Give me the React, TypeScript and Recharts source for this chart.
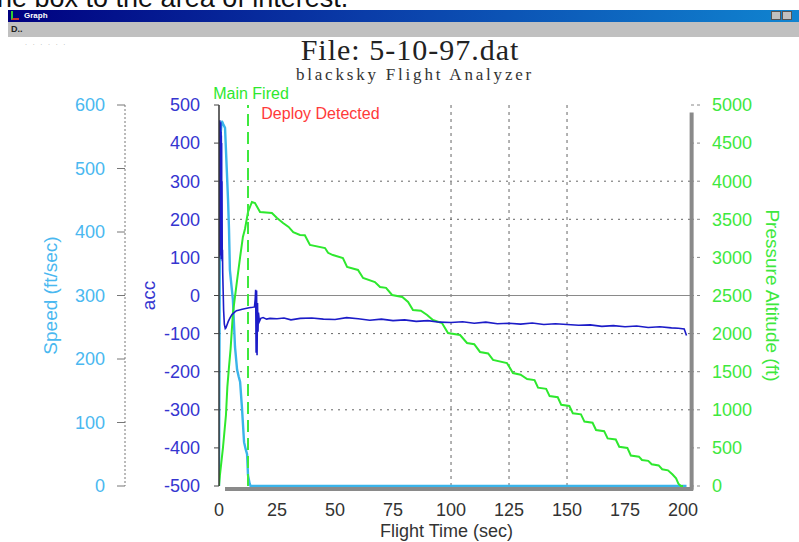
import React from 'react';
import { ComposedChart, Line, XAxis, YAxis, ReferenceLine, Label } from 'recharts';

const timeTicks = [0, 25, 50, 75, 100, 125, 150, 175, 200];
const speedTicks = [0, 100, 200, 300, 400, 500, 600];
const accTicks = [-500, -400, -300, -200, -100, 0, 100, 200, 300, 400, 500];
const altTicks = [0, 500, 1000, 1500, 2000, 2500, 3000, 3500, 4000, 4500, 5000];
const accGridValues = [300, 200, -100, -200, -300];
const timeGridValues = [100, 125, 150];
const mainFiredTime = 12.5;
const deployDetectedTime = 16.5;

const speedSamples: [number, number][] = [
  [0, 0], [0.3, 320], [0.7, 555], [1.2, 575], [1.8, 570], [2.6, 564], [3.4, 494], [3.9, 450],
  [4.3, 406], [4.7, 340], [5.3, 318], [6.0, 293], [6.9, 219], [7.8, 183], [8.5, 172], [9.1, 164],
  [9.9, 123], [10.8, 69], [11.5, 58], [12.1, 50], [12.5, 17], [13.2, 4], [13.6, 0], [40, 0],
  [80, 0], [120, 0], [160, 0], [201.5, 0],
];

const accSamples: [number, number][] = [
  [0, 100], [0.1, 450], [0.15, 120], [0.2, 455], [0.3, 130], [0.35, 460], [0.4, 160], [0.5, 440],
  [0.55, 105], [0.6, 450], [0.7, 110], [0.75, 455], [0.8, 200], [0.9, 430], [0.95, 95], [1.0, 420],
  [1.1, 100], [1.15, 400], [1.2, 95], [1.3, 300], [1.4, 90], [1.5, 120],
  [1.6, 60], [1.8, 10], [2.0, -40], [2.3, -75], [2.7, -87], [3.0, -85], [3.4, -78], [4.0, -68],
  [4.8, -58], [5.6, -50], [6.5, -45], [7.5, -40], [8.8, -38], [10, -36], [11.5, -34], [13, -32],
  [14.5, -31], [15.3, -30], [15.6, -10], [15.8, 15], [16.0, -150], [16.2, 13], [16.4, -157],
  [16.6, -20], [16.8, -95], [17.0, -45], [17.4, -68], [18, -60], [19, -58], [20.5, -62], [22, -60],
  [25, -61], [28, -59], [31, -64], [35, -60], [40, -59], [45, -62], [50, -63], [55, -58], [60, -61],
  [65, -65], [70, -62], [75, -66], [80, -64], [85, -68], [90, -66], [95, -70], [100, -71], [105, -69],
  [110, -73], [115, -70], [120, -74], [125, -73], [130, -75], [135, -72], [140, -76], [145, -74],
  [150, -76], [155, -78], [160, -77], [165, -81], [170, -79], [175, -82], [180, -80], [185, -84],
  [190, -82], [195, -85], [198, -86], [200.5, -88], [201.5, -105],
];

const altSamples: [number, number][] = [
  [0, 0], [0.4, 144], [1.7, 499], [3.0, 932], [3.6, 1300], [4.3, 1560], [5.0, 1800], [6.0, 2270],
  [7.8, 2703], [9.1, 3005], [10.3, 3268], [11.2, 3373], [12.5, 3596], [14.2, 3727], [15.5, 3714],
  [17.7, 3596], [22.8, 3583], [25.0, 3517], [27.6, 3451], [30, 3400], [32, 3330], [34.9, 3294],
  [37, 3290], [39.2, 3163], [45.7, 3123], [47, 3060], [49.1, 3031], [53.4, 2992], [55.2, 2874],
  [59.9, 2835], [62.1, 2730], [67.2, 2677], [69.4, 2612], [72, 2600], [74.6, 2507], [79, 2480],
  [81.5, 2415], [83.6, 2310], [87, 2300], [89.7, 2244], [92.2, 2178], [96.1, 2139], [98.7, 2008],
  [103.9, 1982], [106.9, 1877], [110, 1860], [112.5, 1759], [116, 1740], [118.1, 1654], [124.1, 1614],
  [126.7, 1483], [130, 1460], [132.8, 1404], [136.0, 1390], [137.5, 1290], [141.0, 1275], [142.5, 1180],
  [146.0, 1165], [147.5, 1065], [151.0, 1050], [152.5, 955], [156.0, 940], [157.5, 845], [161.0, 830],
  [162.5, 735], [166.0, 720], [167.5, 625], [171.0, 610], [172.5, 515], [176.0, 500], [177.5, 400],
  [181.0, 385], [182.3, 341], [185.0, 330], [186.5, 285], [189.5, 270], [191.0, 220], [193.5, 205],
  [195.5, 150], [197.0, 100], [198.0, 30], [199.0, 0], [200.0, 0],
];

const speedData = speedSamples.map(([t, v]) => ({ t, speed: v }));
const accData = accSamples.map(([t, v]) => ({ t, acc: v }));
const altData = altSamples.map(([t, v]) => ({ t, alt: v }));

const SANS = '"Liberation Sans", Arial, sans-serif';
const SERIF = '"Liberation Serif", "Times New Roman", serif';

const rotatedTitle = (text: string, color: string, dx: number, angle: number) => (props: any) => {
  const vb = props.viewBox || {};
  const cx = vb.x + dx;
  const cy = vb.y + vb.height / 2;
  return (
    <text x={cx} y={cy} transform={`rotate(${angle} ${cx} ${cy})`} textAnchor="middle"
      dominantBaseline="central" fill={color} fontSize={19} fontFamily={SANS}>
      {text}
    </text>
  );
};

export default function App() {
  return (
    <div style={{ position: 'absolute', left: 0, top: 0, width: 799, height: 542, background: '#fff', overflow: 'hidden', fontFamily: SANS }}>
      <ComposedChart width={799} height={542} margin={{ top: 105, right: 0, bottom: 0, left: 0 }}
        style={{ position: 'absolute', left: 0, top: 0 }}>
        <XAxis dataKey="t" type="number" domain={[0, 203]} ticks={timeTicks} allowDataOverflow height={56}
          tickLine={false} axisLine={false} interval={0} tickMargin={11}
          tick={{ fill: '#333', fontSize: 18, fontFamily: SANS }}>
          <Label content={(props: any) => {
            const vb = props.viewBox || {};
            return (
              <text x={vb.x + vb.width / 2 - 8} y={vb.y + 51} textAnchor="middle" fill="#333" fontSize={18} fontFamily={SANS}>
                Flight Time (sec)
              </text>
            );
          }} />
        </XAxis>
        <YAxis yAxisId="acc" orientation="left" width={94} type="number" domain={[-500, 500]} ticks={accTicks}
          interval={0} tickSize={5} tickMargin={14} axisLine={{ stroke: '#333', strokeWidth: 1.5 }}
          tickLine={{ stroke: '#444' }} tick={{ fill: '#3535d0', fontSize: 18, fontFamily: SANS }}>
          <Label content={rotatedTitle('acc', '#3535d0', 23, -90)} />
        </YAxis>
        <YAxis yAxisId="speed" orientation="left" width={125} type="number" domain={[0, 600]} ticks={speedTicks}
          interval={0} tickSize={8} tickMargin={12} axisLine={{ stroke: '#777', strokeDasharray: '2 2' }}
          tickLine={{ stroke: '#777' }} tick={{ fill: '#4ab8f0', fontSize: 18, fontFamily: SANS }}>
          <Label content={rotatedTitle('Speed (ft/sec)', '#4ab8f0', 50, -90)} />
        </YAxis>
        <YAxis yAxisId="alt" orientation="right" width={109} type="number" domain={[0, 5000]} ticks={altTicks}
          interval={0} tickSize={10} tickMargin={12} axisLine={false}
          tickLine={{ stroke: '#888', strokeDasharray: '3 3' }} tick={{ fill: '#3ee83e', fontSize: 18, fontFamily: SANS, textAnchor: 'start' }}>
          <Label content={rotatedTitle('Pressure Altitude (ft)', '#3ee83e', 82, 90)} />
        </YAxis>

        {accGridValues.map((v) => (
          <ReferenceLine key={'gy' + v} yAxisId="acc" y={v} stroke="#666" strokeDasharray="2 5" />
        ))}
        {timeGridValues.map((v) => (
          <ReferenceLine key={'gx' + v} yAxisId="acc" x={v} stroke="#666" strokeDasharray="3 4" />
        ))}
        <ReferenceLine yAxisId="acc" y={0} stroke="#8a8a8a" strokeWidth={1.2} />

        <Line yAxisId="speed" data={speedData} dataKey="speed" type="linear" stroke="#3ab4ea" strokeWidth={2.4}
          dot={false} isAnimationActive={false} />
        <Line yAxisId="alt" data={altData} dataKey="alt" type="linear" stroke="#2ee82e" strokeWidth={2}
          dot={false} isAnimationActive={false} />
        <Line yAxisId="acc" data={accData} dataKey="acc" type="linear" stroke="#1c1cc8" strokeWidth={1.6}
          dot={false} isAnimationActive={false} />

        <ReferenceLine yAxisId="acc" x={mainFiredTime} stroke="#3ee83e" strokeWidth={2} strokeDasharray="12 6"
          label={(props: any) => {
            const vb = props.viewBox || {};
            return (
              <text x={vb.x + 3} y={vb.y - 12} textAnchor="middle" dominantBaseline="central" fill="#2ee82e" fontSize={16} fontFamily={SANS}>
                Main Fired
              </text>
            );
          }} />
        <ReferenceLine yAxisId="acc" x={deployDetectedTime} stroke="none"
          label={(props: any) => {
            const vb = props.viewBox || {};
            return (
              <text x={vb.x + 4} y={vb.y + 8} textAnchor="start" dominantBaseline="central" fill="#ff3a3a" fontSize={16} fontFamily={SANS}>
                Deploy Detected
              </text>
            );
          }} />

        <ReferenceLine yAxisId="acc" ifOverflow="visible" stroke="#8a8a8a" strokeWidth={4}
          segment={[{ x: 2.6, y: -508 }, { x: 204.4, y: -508 }]} />
        <ReferenceLine yAxisId="acc" ifOverflow="visible" stroke="#8a8a8a" strokeWidth={4}
          segment={[{ x: 203.7, y: 480 }, { x: 203.7, y: -510 }]} />
      </ComposedChart>

      <div style={{ position: 'absolute', left: 0, top: 0, width: 799, height: 10, overflow: 'hidden' }}>
        <div style={{ position: 'absolute', left: -3, top: -15, fontSize: 27, lineHeight: '27px', color: '#111', whiteSpace: 'nowrap', fontFamily: SANS }}>
          he box to the area of interest.
        </div>
      </div>
      <div style={{ position: 'absolute', left: 8, top: 10, width: 791, height: 12, background: 'linear-gradient(to right, #000080 0%, #0a3ca8 45%, #1084d0 100%)' }}>
        <div style={{ position: 'absolute', left: 3, top: 1, width: 8, height: 9, borderLeft: '2px solid #3c3', borderBottom: '2px solid #c33', boxSizing: 'border-box' }} />
        <div style={{ position: 'absolute', left: 16, top: 0, fontSize: 8, lineHeight: '12px', color: '#fff', fontWeight: 'bold' }}>Graph</div>
        <div style={{ position: 'absolute', left: 763, top: 1, width: 10, height: 9, background: '#c0c0c0', border: '1px solid #555', boxSizing: 'border-box' }} />
        <div style={{ position: 'absolute', left: 774, top: 1, width: 10, height: 9, background: '#c0c0c0', border: '1px solid #555', boxSizing: 'border-box' }} />
      </div>
      <div style={{ position: 'absolute', left: 8, top: 22, width: 791, height: 15, background: '#c0c0c0' }}>
        <div style={{ position: 'absolute', left: 3, top: 0, fontSize: 9, lineHeight: '15px', color: '#222', fontWeight: 'bold' }}>D..</div>
      </div>
      <div style={{ position: 'absolute', left: 25, top: 40, fontSize: 6, lineHeight: '8px', color: '#777', letterSpacing: 2 }}>
        · · · · · ·
      </div>
      <div style={{ position: 'absolute', left: 0, top: 34, width: 820, textAlign: 'center', fontFamily: SERIF, fontSize: 30, lineHeight: '31px', color: '#222', letterSpacing: 1 }}>
        File: 5-10-97.dat
      </div>
      <div style={{ position: 'absolute', left: 0, top: 66, width: 830, textAlign: 'center', fontFamily: SERIF, fontSize: 17, lineHeight: '17px', color: '#333', letterSpacing: 2.8 }}>
        blacksky Flight Analyzer
      </div>
    </div>
  );
}
